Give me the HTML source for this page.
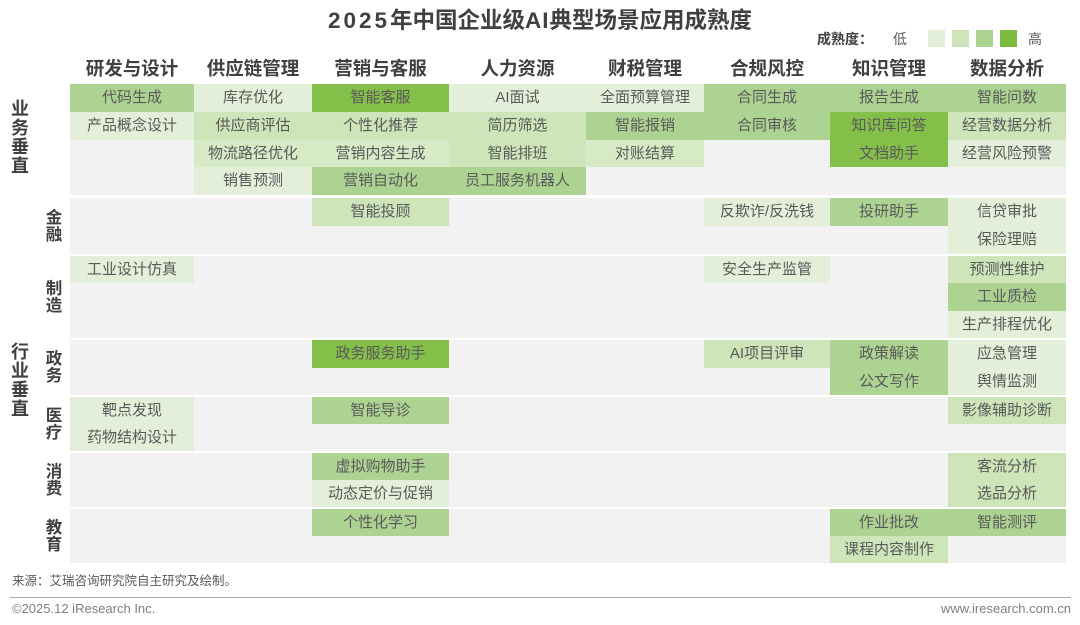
<!DOCTYPE html>
<html><head><meta charset="utf-8"><style>
*{margin:0;padding:0;box-sizing:border-box}
body{width:1080px;height:625px;background:#fff;position:relative;overflow:hidden;font-family:"Liberation Sans","Noto Sans CJK SC",sans-serif}
.a{position:absolute}
.t{left:0;width:1080px;top:6px;line-height:30px;text-align:center;font-size:22.5px;font-weight:bold;color:#404040}
.h{top:58px;line-height:22px;text-align:center;font-size:18.5px;font-weight:bold;color:#404040}
.g{background:#f2f2f2;left:70px;width:996px}
.c{text-align:center;font-size:15px;color:#595959;white-space:nowrap}
.l1{background:#e3efd9}.l2{background:#cde5b9}.l3{background:#add392}.l4{background:#84bf4a}
.m{left:11px;width:18px;font-size:18px;font-weight:bold;color:#404040;line-height:19px;text-align:center}
.s{left:45px;width:18px;font-size:16.5px;font-weight:bold;color:#404040;line-height:16.5px;text-align:center}
.sq{top:30px;width:17px;height:17px}
</style></head><body>
<div class="a t"><span style="letter-spacing:3px">2025</span>年中国企业级<span style="letter-spacing:1px">AI</span>典型场景应用成熟度</div>

<div class="a" style="left:817px;top:30px;line-height:18px;font-size:14px;font-weight:bold;color:#404040">成熟度：</div>
<div class="a" style="left:893px;top:30px;line-height:18px;font-size:14px;color:#595959">低</div>
<div class="a sq l1" style="left:928px"></div>
<div class="a sq l2" style="left:952px"></div>
<div class="a sq l3" style="left:976px"></div>
<div class="a sq" style="left:1000px;background:#7cba40"></div>
<div class="a" style="left:1028px;top:30px;line-height:18px;font-size:14px;color:#595959">高</div>

<div class="a h" style="left:70px;width:124px">研发与设计</div>
<div class="a h" style="left:194px;width:118px">供应链管理</div>
<div class="a h" style="left:312px;width:137px">营销与客服</div>
<div class="a h" style="left:449px;width:137px">人力资源</div>
<div class="a h" style="left:586px;width:118px">财税管理</div>
<div class="a h" style="left:704px;width:126px">合规风控</div>
<div class="a h" style="left:830px;width:118px">知识管理</div>
<div class="a h" style="left:948px;width:118px">数据分析</div>

<div class="a m" style="top:100px">业<br>务<br>垂<br>直</div>
<div class="a m" style="top:343px">行<br>业<br>垂<br>直</div>
<div class="a s" style="top:210px">金<br>融</div>
<div class="a s" style="top:281px">制<br>造</div>
<div class="a s" style="top:351px">政<br>务</div>
<div class="a s" style="top:408px">医<br>疗</div>
<div class="a s" style="top:464px">消<br>费</div>
<div class="a s" style="top:520px">教<br>育</div>

<div class="a g" style="top:84px;height:111px"></div>
<div class="a g" style="top:198px;height:56px"></div>
<div class="a g" style="top:256px;height:82px"></div>
<div class="a g" style="top:340px;height:55px"></div>
<div class="a g" style="top:397px;height:54px"></div>
<div class="a g" style="top:453px;height:54px"></div>
<div class="a g" style="top:509px;height:54px"></div>

<div class="a c l3" style="left:70px;width:124px;top:84px;height:27.75px;line-height:27.75px">代码生成</div>
<div class="a c l1" style="left:194px;width:118px;top:84px;height:27.75px;line-height:27.75px">库存优化</div>
<div class="a c l4" style="left:312px;width:137px;top:84px;height:27.75px;line-height:27.75px">智能客服</div>
<div class="a c l1" style="left:449px;width:137px;top:84px;height:27.75px;line-height:27.75px">AI面试</div>
<div class="a c l1" style="left:586px;width:118px;top:84px;height:27.75px;line-height:27.75px">全面预算管理</div>
<div class="a c l3" style="left:704px;width:126px;top:84px;height:27.75px;line-height:27.75px">合同生成</div>
<div class="a c l3" style="left:830px;width:118px;top:84px;height:27.75px;line-height:27.75px">报告生成</div>
<div class="a c l3" style="left:948px;width:118px;top:84px;height:27.75px;line-height:27.75px">智能问数</div>

<div class="a c l1" style="left:70px;width:124px;top:111.75px;height:27.75px;line-height:27.75px">产品概念设计</div>
<div class="a c l2" style="left:194px;width:118px;top:111.75px;height:27.75px;line-height:27.75px">供应商评估</div>
<div class="a c l2" style="left:312px;width:137px;top:111.75px;height:27.75px;line-height:27.75px">个性化推荐</div>
<div class="a c l2" style="left:449px;width:137px;top:111.75px;height:27.75px;line-height:27.75px">简历筛选</div>
<div class="a c l3" style="left:586px;width:118px;top:111.75px;height:27.75px;line-height:27.75px">智能报销</div>
<div class="a c l3" style="left:704px;width:126px;top:111.75px;height:27.75px;line-height:27.75px">合同审核</div>
<div class="a c l4" style="left:830px;width:118px;top:111.75px;height:27.75px;line-height:27.75px">知识库问答</div>
<div class="a c l2" style="left:948px;width:118px;top:111.75px;height:27.75px;line-height:27.75px">经营数据分析</div>

<div class="a c l2" style="left:194px;width:118px;top:139.5px;height:27.75px;line-height:27.75px;background:#d6eac5">物流路径优化</div>
<div class="a c l2" style="left:312px;width:137px;top:139.5px;height:27.75px;line-height:27.75px;background:#d6eac5">营销内容生成</div>
<div class="a c l2" style="left:449px;width:137px;top:139.5px;height:27.75px;line-height:27.75px">智能排班</div>
<div class="a c l2" style="left:586px;width:118px;top:139.5px;height:27.75px;line-height:27.75px;background:#d6eac5">对账结算</div>
<div class="a c l4" style="left:830px;width:118px;top:139.5px;height:27.75px;line-height:27.75px">文档助手</div>
<div class="a c l1" style="left:948px;width:118px;top:139.5px;height:27.75px;line-height:27.75px">经营风险预警</div>

<div class="a c l1" style="left:194px;width:118px;top:167.25px;height:27.75px;line-height:27.75px">销售预测</div>
<div class="a c l3" style="left:312px;width:137px;top:167.25px;height:27.75px;line-height:27.75px">营销自动化</div>
<div class="a c l3" style="left:449px;width:137px;top:167.25px;height:27.75px;line-height:27.75px">员工服务机器人</div>

<div class="a c l2" style="left:312px;width:137px;top:198px;height:28px;line-height:28px">智能投顾</div>
<div class="a c l1" style="left:704px;width:126px;top:198px;height:28px;line-height:28px">反欺诈/反洗钱</div>
<div class="a c l3" style="left:830px;width:118px;top:198px;height:28px;line-height:28px">投研助手</div>
<div class="a c l1" style="left:948px;width:118px;top:198px;height:28px;line-height:28px">信贷审批</div>
<div class="a c l1" style="left:948px;width:118px;top:226px;height:28px;line-height:28px">保险理赔</div>

<div class="a c l1" style="left:70px;width:124px;top:256px;height:27.33px;line-height:27.33px">工业设计仿真</div>
<div class="a c l1" style="left:704px;width:126px;top:256px;height:27.33px;line-height:27.33px">安全生产监管</div>
<div class="a c l2" style="left:948px;width:118px;top:256px;height:27.33px;line-height:27.33px">预测性维护</div>
<div class="a c l3" style="left:948px;width:118px;top:283.33px;height:27.33px;line-height:27.33px">工业质检</div>
<div class="a c l1" style="left:948px;width:118px;top:310.67px;height:27.33px;line-height:27.33px">生产排程优化</div>

<div class="a c l4" style="left:312px;width:137px;top:340px;height:27.5px;line-height:27.5px">政务服务助手</div>
<div class="a c l2" style="left:704px;width:126px;top:340px;height:27.5px;line-height:27.5px">AI项目评审</div>
<div class="a c l3" style="left:830px;width:118px;top:340px;height:27.5px;line-height:27.5px">政策解读</div>
<div class="a c l1" style="left:948px;width:118px;top:340px;height:27.5px;line-height:27.5px">应急管理</div>
<div class="a c l3" style="left:830px;width:118px;top:367.5px;height:27.5px;line-height:27.5px">公文写作</div>
<div class="a c l1" style="left:948px;width:118px;top:367.5px;height:27.5px;line-height:27.5px">舆情监测</div>

<div class="a c l1" style="left:70px;width:124px;top:397px;height:27px;line-height:27px">靶点发现</div>
<div class="a c l3" style="left:312px;width:137px;top:397px;height:27px;line-height:27px">智能导诊</div>
<div class="a c l2" style="left:948px;width:118px;top:397px;height:27px;line-height:27px">影像辅助诊断</div>
<div class="a c l1" style="left:70px;width:124px;top:424px;height:27px;line-height:27px">药物结构设计</div>

<div class="a c l3" style="left:312px;width:137px;top:453px;height:27px;line-height:27px">虚拟购物助手</div>
<div class="a c l2" style="left:948px;width:118px;top:453px;height:27px;line-height:27px">客流分析</div>
<div class="a c l1" style="left:312px;width:137px;top:480px;height:27px;line-height:27px">动态定价与促销</div>
<div class="a c l2" style="left:948px;width:118px;top:480px;height:27px;line-height:27px">选品分析</div>

<div class="a c l3" style="left:312px;width:137px;top:509px;height:27px;line-height:27px">个性化学习</div>
<div class="a c l3" style="left:830px;width:118px;top:509px;height:27px;line-height:27px">作业批改</div>
<div class="a c l3" style="left:948px;width:118px;top:509px;height:27px;line-height:27px">智能测评</div>
<div class="a c l2" style="left:830px;width:118px;top:536px;height:27px;line-height:27px">课程内容制作</div>

<div class="a" style="left:12px;top:572px;line-height:18px;font-size:12.5px;color:#595959">来源：艾瑞咨询研究院自主研究及绘制。</div>
<div class="a" style="left:10px;top:597px;width:1061px;height:1px;background:#a6a6a6"></div>
<div class="a" style="left:12px;top:601px;line-height:16px;font-size:13px;color:#7f7f7f">©2025.12 iResearch Inc.</div>
<div class="a" style="right:9px;top:601px;line-height:16px;font-size:13px;color:#7f7f7f">www.iresearch.com.cn</div>
</body></html>
